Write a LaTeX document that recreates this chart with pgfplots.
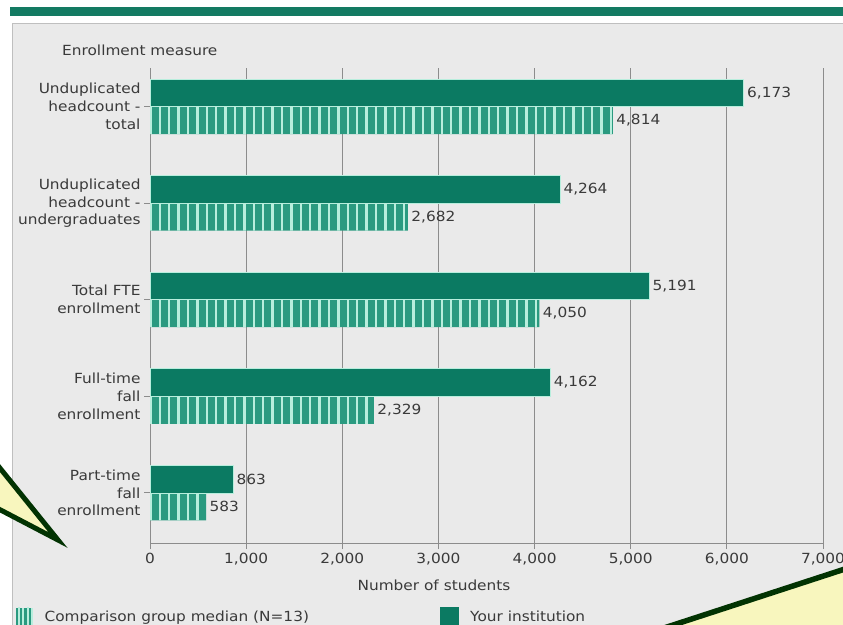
\documentclass[border=0pt]{standalone}
\usepackage{pgfplots}
\pgfplotsset{compat=1.18}
\usepackage{fontspec}
\setmainfont{DejaVu Sans}[FakeStretch=1.1]
\usetikzlibrary{patterns.meta}
\definecolor{inst}{HTML}{0B7A62}
\definecolor{comp}{HTML}{2A9A80}
\definecolor{compgap}{HTML}{B8EEDD}
\definecolor{panel}{HTML}{EAEAEA}
\definecolor{gridc}{HTML}{8C8C8C}
\definecolor{txt}{HTML}{3A3A3A}
\definecolor{calloutline}{HTML}{023302}
\definecolor{calloutfill}{HTML}{F8F6BE}
\definecolor{topbar}{HTML}{137A62}
\newcommand{\lf}{\fontsize{14}{18}\selectfont}
\begin{document}
\begin{tikzpicture}[x=1bp,y=1bp]
\useasboundingbox (0,0) rectangle (843,-625);
\fill[white] (0,0) rectangle (843,-625);
\fill[topbar] (10,-7) rectangle (843,-16);
\fill[panel] (12,-23) rectangle (843,-625);
\draw[gray!50] (12,-625) -- (12,-23) -- (843,-23);
\node[anchor=west, text=txt, font=\lf, inner sep=0pt] at (62,-50) {Enrollment measure};
\begin{axis}[
  at={(150bp,-543bp)}, anchor=south west,
  scale only axis, width=673bp, height=475bp,
  xmin=0, xmax=7000, ymin=-0.4, ymax=4.52, y dir=reverse,
  axis x line*=bottom, axis y line*=left,
  axis line style={gridc, line width=0.8bp, -},
  xtick={0,1000,...,7000},
  ytick={0,1,2,3,4},
  yticklabels={{Unduplicated\\headcount -\\total},{Unduplicated\\headcount -\\undergraduates},{Total FTE\\enrollment},{Full-time\\fall\\enrollment},{Part-time\\fall\\enrollment}},
  xmajorgrids, grid style={gridc, line width=0.8bp},
  tick style={gridc, line width=0.8bp},
  tick align=outside, major tick length=6bp,
  /pgf/number format/1000 sep={,},
  /pgf/number format/assume math mode=true,
  xticklabel style={font=\lf, text=txt, yshift=-1bp},
  yticklabel style={font=\lf, text=txt, align=right},
  xlabel={Number of students},
  xlabel style={font=\lf, text=txt, at={(axis description cs:0.422,-0.0884)}, anchor=center},
  legend style={at={(axis description cs:-0.2,-0.135)}, anchor=north west, draw=none, fill=none, font=\lf, text=txt, legend columns=2, inner sep=0pt},
  legend cell align=left,
  nodes near coords, nodes near coords align={horizontal},
  point meta=x,
]
\addplot[xbar, bar width=0.285, bar shift=0.1425, fill=comp, draw=none,
  postaction={pattern={Lines[angle=90,distance=9.4bp,line width=2.4bp]}, pattern color=compgap},
  every node near coord/.append style={font=\lf, text=txt, yshift=-13.75bp},
  legend image code/.code={\fill[comp] (0bp,-9bp) rectangle (17bp,9bp); \fill[compgap] (6bp,-9bp) rectangle (8.5bp,9bp); \fill[compgap] (15bp,-9bp) rectangle (17bp,9bp);}]
  coordinates {(4814,0) (2682,1) (4050,2) (2329,3) (583,4)};
\addlegendentry{\hspace{10bp}\makebox[393bp][l]{Comparison group median (N=13)}}
\addplot[xbar, bar width=0.285, bar shift=-0.1425, fill=inst, draw=compgap, line width=0.6bp,
  every node near coord/.append style={font=\lf, text=txt, yshift=13.75bp},
  legend image code/.code={\fill[inst] (0bp,-9bp) rectangle (18bp,9bp);}]
  coordinates {(6173,0) (4264,1) (5191,2) (4162,3) (863,4)};
\addlegendentry{\hspace{10bp}Your institution}
\end{axis}
\begin{scope}
\clip (0,0) rectangle (843,-625);
\filldraw[fill=calloutfill, draw=calloutline, line width=5bp, miter limit=20]
  (-30,-431) -- (58,-540) -- (-30,-494) -- cycle;
\fill[calloutfill] (668,-625) -- (846,-569) -- (860,-640) -- cycle;
\draw[calloutline, line width=5.5bp] (664,-628) -- (848,-568);
\end{scope}
\end{tikzpicture}
\end{document}
